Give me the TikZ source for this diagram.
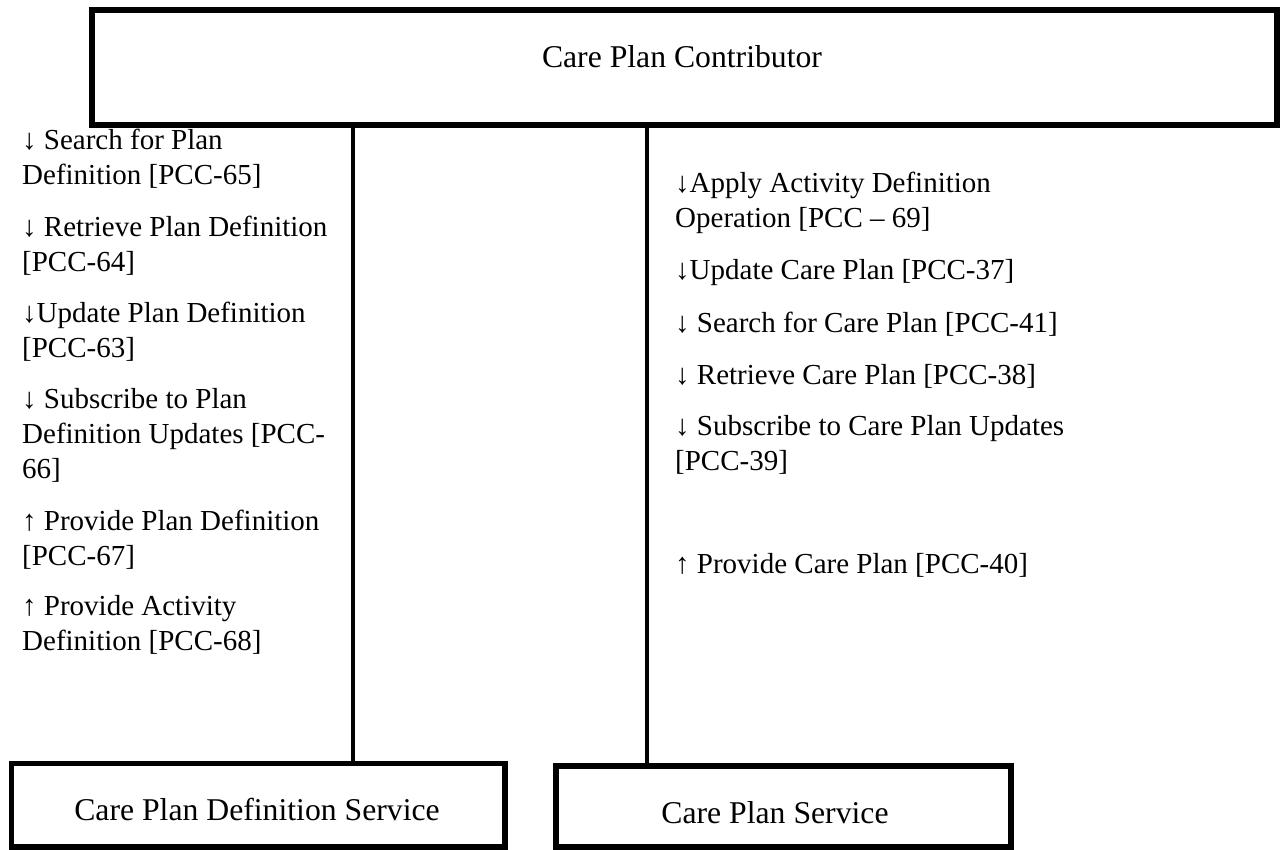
\documentclass[tikz,border=0pt]{standalone}
\usepackage{fontspec}
\setmainfont{Liberation Serif}
\newcommand{\twoln}[2]{\vtop{\hbox{\strut #1}\hbox{\strut #2}}}
\newcommand{\threeln}[3]{\vtop{\hbox{\strut #1}\hbox{\strut #2}\hbox{\strut #3}}}
\tikzset{
  bigbox/.style={draw=black, line width=5.7pt, minimum width=#1, inner sep=0pt},
  boxlabel/.style={anchor=base, inner sep=0pt, font=\fontsize{31.7}{38}\selectfont},
  side/.style={anchor=base west, inner sep=0pt, font=\fontsize{29}{35}\selectfont},
  conn/.style={draw=black, line width=4pt}
}
\begin{document}
\begin{tikzpicture}[x=1pt,y=-1pt]
\useasboundingbox (0,0) rectangle (1285,850);
% boxes
\node[bigbox=1185pt, minimum height=115pt] (top) at (684.5,67.5) {};
\node[bigbox=493.5pt, minimum height=83.5pt] (def) at (258.25,805.25) {};
\node[bigbox=455pt, minimum height=81pt] (cps) at (783.5,806.5) {};
% labels
\node[boxlabel] (toplbl) at (682,68) {Care Plan Contributor};
\node[boxlabel] (deflbl) at (257,820) {Care Plan Definition Service};
\node[boxlabel] (cpslbl) at (775,823) {Care Plan Service};
% connectors
\coordinate (lx) at (353,0);
\coordinate (rx) at (647,0);
\draw[conn] (top.south -| lx) -- (def.north -| lx);
\draw[conn] (top.south -| rx) -- (cps.north -| rx);
% left column
\node[side] (l1) at (22,150) {\twoln{↓ Search for Plan}{Definition [PCC-65]}};
\node[side] (l2) at (22,237) {\twoln{↓ Retrieve Plan Definition}{[PCC-64]}};
\node[side] (l3) at (22,323) {\twoln{↓Update Plan Definition}{[PCC-63]}};
\node[side] (l4) at (22,408) {\threeln{↓ Subscribe to Plan}{Definition Updates [PCC-}{66]}};
\node[side] (l5) at (22,530) {\twoln{↑ Provide Plan Definition}{[PCC-67]}};
\node[side] (l6) at (22,615) {\twoln{↑ Provide Activity}{Definition [PCC-68]}};
% right column
\node[side] (r1) at (675,193) {\twoln{↓Apply Activity Definition}{Operation [PCC – 69]}};
\node[side] (r2) at (675,280) {↓Update Care Plan [PCC-37]};
\node[side] (r3) at (675,332) {↓ Search for Care Plan [PCC-41]};
\node[side] (r4) at (675,384) {↓ Retrieve Care Plan [PCC-38]};
\node[side] (r5) at (675,435) {\twoln{↓ Subscribe to Care Plan Updates}{[PCC-39]}};
\node[side] (r6) at (675,573) {↑ Provide Care Plan [PCC-40]};
\end{tikzpicture}
\end{document}
